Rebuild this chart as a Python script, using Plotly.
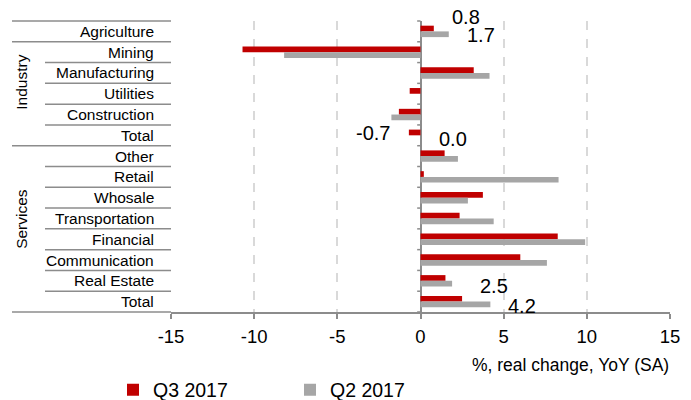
import plotly.graph_objects as go

categories = ["Agriculture", "Mining", "Manufacturing", "Utilities", "Construction", "Total",
              "Other", "Retail", "Whosale", "Transportation", "Financial", "Communication",
              "Real Estate", "Total"]
q3_2017 = [0.8, -10.7, 3.2, -0.65, -1.3, -0.7, 1.45, 0.2, 3.75, 2.35, 8.25, 6.0, 1.5, 2.5]
q2_2017 = [1.7, -8.2, 4.15, 0.0, -1.75, 0.0, 2.25, 8.3, 2.85, 4.4, 9.9, 7.6, 1.9, 4.2]
groups = [("Industry", 1, 5), ("Services", 6, 13)]
labelled_rows = [0, 5, 13]
x_ticks = [-15, -10, -5, 0, 5, 10, 15]

RED = "#C00000"
GRAY = "#A6A6A6"
LINE = "#8C8C8C"
FONT = "Liberation Sans, Arial, sans-serif"

n = len(categories)
rows = list(range(n))

fig = go.Figure()
fig.add_trace(go.Bar(y=rows, x=q3_2017, orientation="h", name="Q3 2017",
                     marker=dict(color=RED, line=dict(width=0))))
fig.add_trace(go.Bar(y=rows, x=q2_2017, orientation="h", name="Q2 2017",
                     marker=dict(color=GRAY, line=dict(width=0))))

shapes = []
annotations = []

# category separator lines (paper coords) and category tick marks at zero
full_bounds = {0, 1, 6, 14}
for k in range(n + 1):
    yp = 1 - k / n
    x0 = -159 / 499 if k in full_bounds else -126 / 499
    shapes.append(dict(type="line", xref="paper", yref="paper", x0=x0, x1=0, y0=yp, y1=yp,
                       line=dict(color=LINE, width=1.5)))
    shapes.append(dict(type="line", xref="x", yref="paper", x0=-0.2, x1=0, y0=yp, y1=yp,
                       line=dict(color=LINE, width=1.5)))

# category labels
for i, c in enumerate(categories):
    annotations.append(dict(text=c, xref="paper", yref="paper", x=-15 / 499,
                            y=1 - (i + 0.5) / n, xanchor="right", yanchor="middle",
                            showarrow=False, font=dict(size=15.5, color="#000", family=FONT)))

# group labels
group_shift = {"Industry": 11, "Services": 10}
for name, a, b in groups:
    annotations.append(dict(text=name, xref="paper", yref="paper", x=-149 / 499,
                            y=1 - ((a + b) / 2 + 0.5) / n, yshift=group_shift[name],
                            textangle=-90, xanchor="center", yanchor="middle",
                            showarrow=False, font=dict(size=15.5, color="#000", family=FONT)))

# data labels for selected rows
label_yshift = {(0, 0): 14, (0, 1): -4, (5, 0): 2, (5, 1): -4, (13, 0): 16, (13, 1): -4}
for r in labelled_rows:
    for s, series in enumerate([q3_2017, q2_2017]):
        v = series[r]
        neg = v < 0
        annotations.append(dict(text=f"{v:.1f}", x=v, y=r, xref="x", yref="y",
                                xanchor="right" if neg else "left", yanchor="middle",
                                xshift=-17 if neg else 16, yshift=label_yshift[(r, s)],
                                showarrow=False, font=dict(size=20, color="#000", family=FONT)))

# axis title
annotations.append(dict(text="%, real change, YoY (SA)", xref="paper", yref="paper",
                        x=1.002, y=-53 / 291, xanchor="right", yanchor="middle", showarrow=False,
                        font=dict(size=17.5, color="#000", family=FONT)))

fig.update_layout(
    width=691, height=400,
    margin=dict(l=171, r=21, t=21, b=88, autoexpand=False),
    paper_bgcolor="white", plot_bgcolor="white",
    barmode="group", bargap=0.45, bargroupgap=0,
    font=dict(family=FONT, color="#000"),
    showlegend=True,
    legend=dict(orientation="h", x=-58 / 499, y=-78 / 291, xanchor="left", yanchor="middle",
                font=dict(size=19.5, color="#000", family=FONT), itemwidth=30,
                entrywidth=132, entrywidthmode="pixels", bgcolor="rgba(0,0,0,0)"),
    shapes=shapes,
    annotations=annotations,
    xaxis=dict(range=[-15, 15], tickvals=x_ticks, ticktext=[str(t) for t in x_ticks],
               showgrid=True, gridcolor="#D9D9D9", gridwidth=1.5, griddash="dash",
               zeroline=True, zerolinecolor=LINE, zerolinewidth=1.5,
               showline=True, linecolor=LINE, linewidth=1.5,
               ticks="outside", ticklen=5, tickwidth=1.5, tickcolor=LINE,
               ticklabelstandoff=2,
               tickfont=dict(size=18.5, color="#000", family=FONT), fixedrange=True),
    yaxis=dict(range=[n - 0.5, -0.5], showticklabels=False, showgrid=False,
               zeroline=False, showline=False, ticks="", fixedrange=True),
)

fig.write_html("out.html", config={"displayModeBar": False},
               post_script="document.body.style.margin='0';document.body.style.overflow='hidden';")
